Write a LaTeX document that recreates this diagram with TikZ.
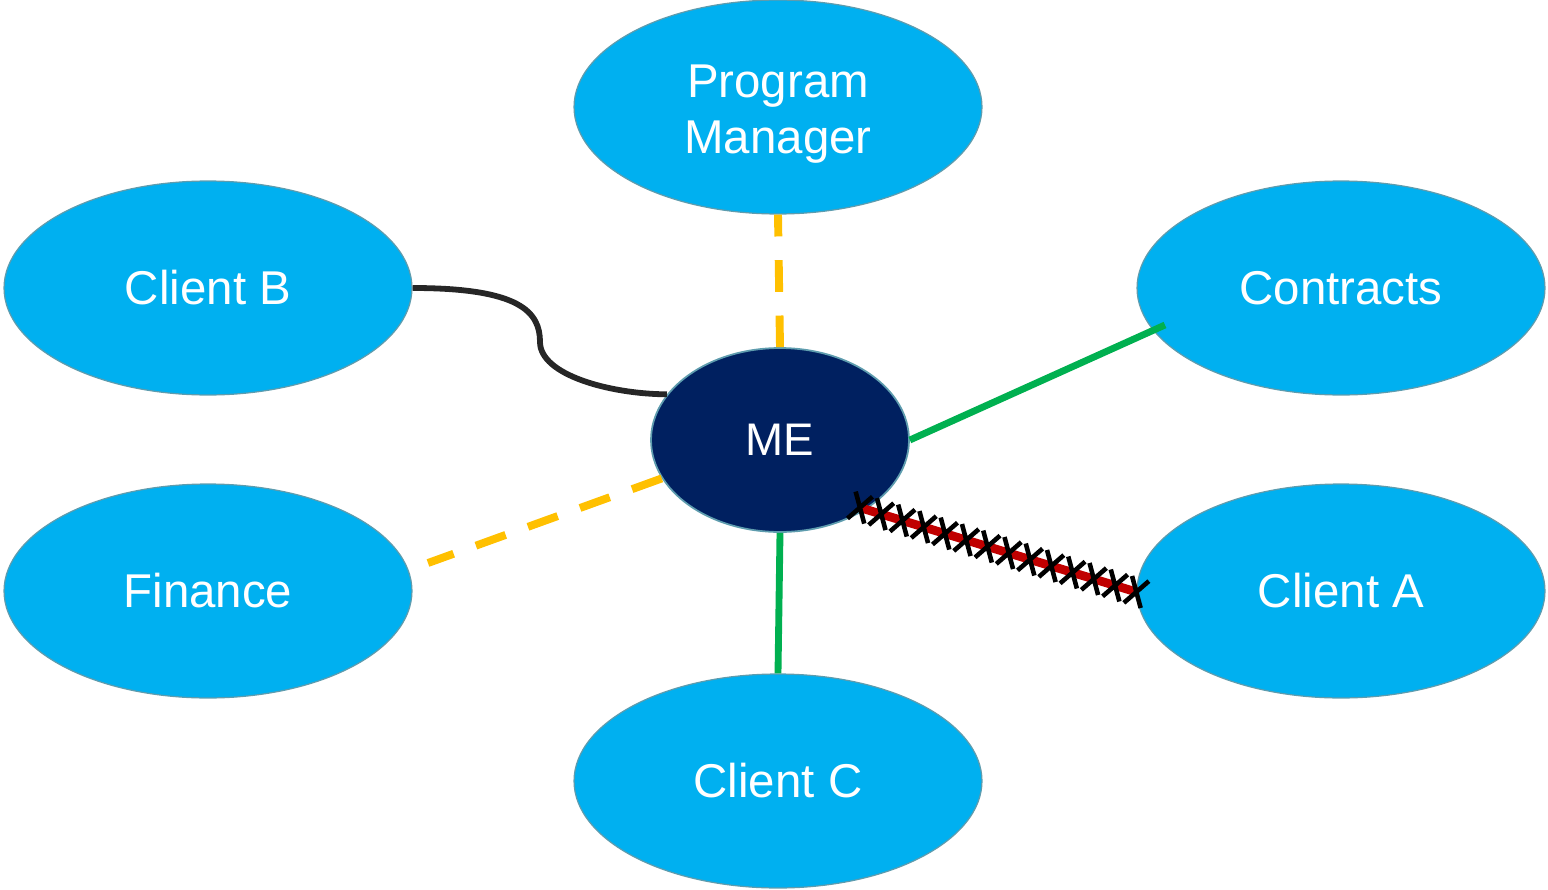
\documentclass[tikz,border=0pt]{standalone}
\usepackage{fontspec}
\setmainfont{Liberation Sans}
\usetikzlibrary{shapes.geometric,decorations.markings,calc}
\definecolor{bubble}{HTML}{00B0F0}
\definecolor{bubbleedge}{HTML}{5E9CAE}
\definecolor{medark}{HTML}{002060}
\definecolor{dashy}{HTML}{FFC000}
\definecolor{okgreen}{HTML}{00B050}
\definecolor{badred}{HTML}{C00000}
\definecolor{curvegray}{HTML}{262626}
\tikzset{
  bubble/.style={ellipse, fill=bubble, draw=bubbleedge, line width=0.7pt,
    minimum width=8.16cm, minimum height=4.28cm, inner sep=0pt,
    text=white, font=\fontsize{27}{31.5}\selectfont, align=center},
  centre/.style={ellipse, fill=medark, draw=bubbleedge, line width=1pt,
    minimum width=5.16cm, minimum height=3.68cm, inner sep=0pt,
    text=white, font=\fontsize{26}{30}\selectfont},
  dashlink/.style={draw=dashy, line width=4.5pt, dash pattern=on 18pt off 13.5pt},
  goodlink/.style={draw=okgreen, line width=3.9pt},
  curvelink/.style={draw=curvegray, line width=3.3pt},
  brokenlink/.style={draw=badred, line width=5pt,
    postaction={decorate, decoration={markings,
      mark=between positions 0.0 and 1.0 step 0.0769 with {
        \draw[black, line width=2.6pt] (-5pt,-8pt) -- (5pt,8pt) (-5pt,8pt) -- (5pt,-8pt);
      }}}},
}
\begin{document}
\begin{tikzpicture}[x=0.02cm, y=-0.02cm]
\useasboundingbox (0,0) rectangle (1548,889);
\node[bubble] (pm) at (778,107) {\rule{0pt}{26.5pt}Program\\Manager};
\node[bubble] (clientb) at (208,288) {Client B};
\node[bubble] (contracts) at (1341,288) {Contracts};
\node[bubble] (finance) at (208,591) {Finance};
\node[bubble] (clienta) at (1341,591) {Client A};
\node[bubble] (clientc) at (778,781) {Client C};
\node[centre] (me) at (780,440) {ME};
\coordinate (finend) at (428,563);
\coordinate (bend) at (540,342);
% connectors
\draw[dashlink] (me.north) -- (pm.south);
\draw[dashlink] (me.198.7) -- (finend);
\draw[goodlink] (me.east) -- ($(contracts.center)+(-176,37)$);
\draw[goodlink] (me.south) -- (clientc.north);
\draw[curvelink] (clientb.east) .. controls (520,288) and (540,312) .. (bend)
  .. controls (540,375) and (610,394) .. (me.158);
\path[brokenlink] ($(me.-39)+(-6,-2)$) -- ($(clienta.180.5)+(0,1)$);
\end{tikzpicture}
\end{document}
